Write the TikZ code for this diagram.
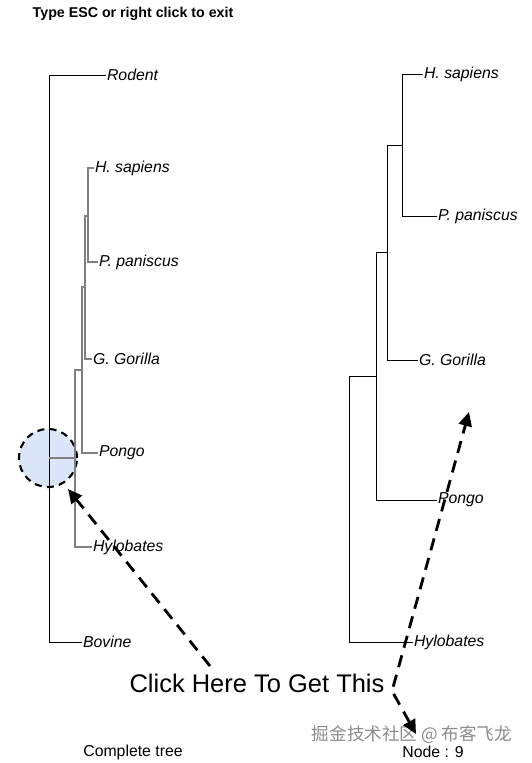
\documentclass[tikz,border=0pt]{standalone}
\usepackage{fontspec}
\setmainfont{Liberation Sans}
\newfontfamily\cjk{Noto Sans CJK SC}
\usetikzlibrary{arrows.meta, positioning}
\definecolor{hiblue}{RGB}{219,230,251}
\tikzset{
  leaf/.style={anchor=west, inner sep=0.4pt, font=\fontsize{9}{11}\selectfont\itshape},
  caption/.style={inner sep=0pt, font=\fontsize{9}{11}\selectfont},
  branch/.style={line width=0.5pt, draw=black},
  subbranch/.style={line width=0.6pt, draw=black!50},
  hilite/.style={circle, minimum size=1.16cm, inner sep=0pt, fill=hiblue,
    draw=black, line width=1.2pt, dash pattern=on 4pt off 3pt},
  dasharr/.style={line width=1.6pt, dash pattern=on 7pt off 4.5pt,
    -{Triangle[length=8pt, width=7.5pt]}},
}
\begin{document}
\begin{tikzpicture}[x=0.02cm, y=-0.02cm]
  \useasboundingbox (0,0) rectangle (531,763);

  % title
  \node[font=\fontsize{8.1}{10}\selectfont\bfseries] (title) at (133,14) {Type ESC or right click to exit};

  % selected node marker
  \node[hilite] (pick) at (48,458) {};

  % complete tree
  \node[leaf] (rdL) at (106,75) {Rodent};
  \node[leaf] (hsL) at (94,168) {H. sapiens};
  \node[leaf] (ppL) at (98,262) {P. paniscus};
  \node[leaf] (ggL) at (92,359) {G. Gorilla};
  \node[leaf] (pgL) at (98,453) {Pongo};
  \node[leaf] (hyL) at (92,547) {Hylobates};
  \node[leaf] (bvL) at (82,642) {Bovine};

  \coordinate (la) at (88,216);
  \coordinate (lb) at (85,287);
  \coordinate (lc) at (82,370);
  \coordinate (ld) at (75,458);
  \coordinate (lr) at (49,358);

  \draw[subbranch] (la) |- (hsL.west);
  \draw[subbranch] (la) |- (ppL.west);
  \draw[subbranch] (lb) |- (la);
  \draw[subbranch] (lb) |- (ggL.west);
  \draw[subbranch] (lc) |- (lb);
  \draw[subbranch] (lc) |- (pgL.west);
  \draw[subbranch] (ld) |- (lc);
  \draw[subbranch] (ld) |- (hyL.west);
  \draw[branch] (lr) |- (rdL.west);
  \draw[branch] (lr) |- (bvL.west);
  \draw[subbranch] (lr |- ld) -- (ld);

  % subtree of node 9
  \node[leaf] (hsR) at (423,74) {H. sapiens};
  \node[leaf] (ppR) at (437,216) {P. paniscus};
  \node[leaf] (ggR) at (418,360) {G. Gorilla};
  \node[leaf] (pgR) at (437,500) {Pongo};
  \node[leaf] (hyR) at (413,642) {Hylobates};

  \coordinate (ra) at (402,145);
  \coordinate (rb) at (387,252);
  \coordinate (rc) at (376,376);
  \coordinate (rd) at (349,509);

  \draw[branch] (ra) |- (hsR.west);
  \draw[branch] (ra) |- (ppR.west);
  \draw[branch] (rb) |- (ra);
  \draw[branch] (rb) |- (ggR.west);
  \draw[branch] (rc) |- (rb);
  \draw[branch] (rc) |- (pgR.west);
  \draw[branch] (rd) |- (rc);
  \draw[branch] (rd) |- (hyR.west);

  % captions
  \node[font=\fontsize{14.5}{17}\selectfont] (click) at (257,683) {Click Here To Get This};
  \node[caption] (full) at (133,752) {Complete tree};
  \node[caption] (sub) at (433,752) {Node : 9};
  \node[inner sep=0pt, text=black!45, font=\fontsize{10}{12}\selectfont\cjk] (mark) at (412,735) {掘金技术社区 @ 布客飞龙};

  % pointers
  \coordinate (p1) at (210,666);
  \coordinate (p2) at (68,489);
  \coordinate (q0) at (416,734);
  \coordinate (q1) at (392,691);
  \coordinate (q2) at (469,412);
  \draw[dasharr] (p1) -- (p2);
  \draw[dasharr, {Triangle[length=8pt, width=7.5pt]}-{Triangle[length=8pt, width=7.5pt]}] (q0) -- (q1) -- (q2);
\end{tikzpicture}
\end{document}
